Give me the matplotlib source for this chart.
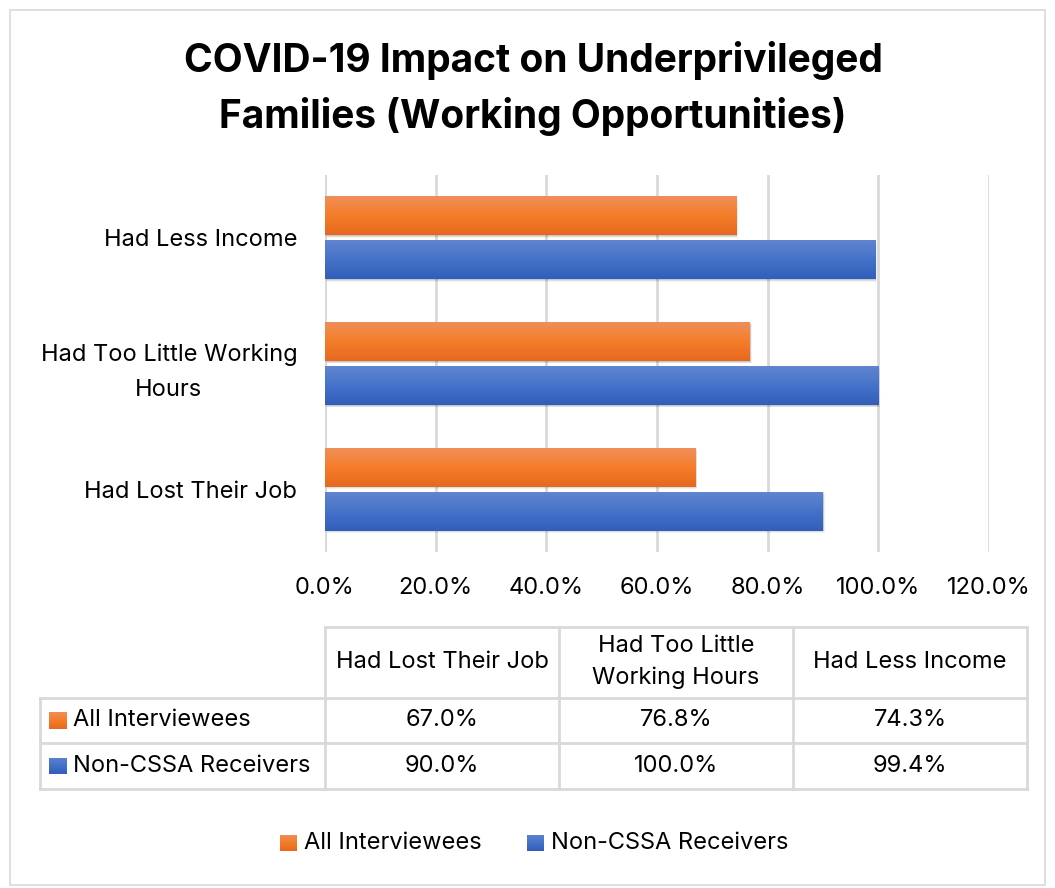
import numpy as np
import matplotlib
matplotlib.use("Agg")
import matplotlib.pyplot as plt
from matplotlib.lines import Line2D
from matplotlib.patches import Rectangle

plt.rcParams['font.family'] = ['Inter', 'DejaVu Sans']

categories = ["Had Lost Their Job", "Had Too Little Working Hours", "Had Less Income"]
axis_labels = ["Had Lost Their Job", "Had Too Little Working\nHours", "Had Less Income"]
table_heads = ["Had Lost Their Job", "Had Too Little\nWorking Hours", "Had Less Income"]
series = ["All Interviewees", "Non-CSSA Receivers"]
all_interviewees = [67.0, 76.8, 74.3]
non_cssa = [90.0, 100.0, 99.4]
xticks = [0, 20, 40, 60, 80, 100, 120]

# top, middle, bottom colours of the bar gradients
orange_grad = [(0.94, 0.56, 0.35), (0.96, 0.49, 0.16), (0.90, 0.41, 0.12)]
blue_grad = [(0.38, 0.52, 0.81), (0.27, 0.45, 0.79), (0.19, 0.37, 0.73)]

FS = 17
W, H = 1055, 888
fig = plt.figure(figsize=(W / 100, H / 100), dpi=100)


def fx(px):
    return px / W


def fy(py):
    return 1 - py / H


# outer chart frame
fig.patches.append(Rectangle((fx(10), fy(885)), fx(1035), 875 / H, transform=fig.transFigure,
                             fill=False, edgecolor="#D9D9D9", lw=1.2))

fig.text(fx(533), fy(60), "COVID-19 Impact on Underprivileged", ha="center", va="center",
         fontsize=28, fontweight="bold", color="black")
fig.text(fx(533), fy(116), "Families (Working Opportunities)", ha="center", va="center",
         fontsize=28, fontweight="bold", color="black")

ax = fig.add_axes([fx(325), fy(552), fx(989) - fx(325), (552 - 175) / H])
y = np.arange(len(categories))
off, bh = 0.175, 0.31


def grad_image(cols, n=64):
    t = np.linspace(0, 1, n)
    c = np.array(cols)
    img = np.empty((n, 1, 3))
    for k in range(3):
        img[:, 0, k] = np.interp(t, [0, 0.5, 1], c[:, k])
    return img


def gradient_bars(bars, cols):
    img = grad_image(cols)
    for b in bars:
        x0, y0, w, h = b.get_x(), b.get_y(), b.get_width(), b.get_height()
        # soft drop shadow
        for i, a in enumerate([0.10, 0.08, 0.05]):
            d = 0.6 + i * 0.5
            ax.add_patch(Rectangle((x0 + d * 0.18, y0 - h * 0.02 * (i + 1)), w, h,
                                   facecolor="black", alpha=a, lw=0, zorder=2))
        ax.imshow(img, extent=(x0, x0 + w, y0, y0 + h), origin="upper",
                  aspect="auto", zorder=3)
        b.set_visible(False)


b1 = ax.barh(y + off, all_interviewees, height=bh)
b2 = ax.barh(y - off, non_cssa, height=bh)
gradient_bars(b1, orange_grad)
gradient_bars(b2, blue_grad)

ax.set_xlim(0, 120)
ax.set_ylim(-0.5, 2.5)
ax.set_xticks(xticks)
ax.set_xticklabels([f"{v:.1f}%" for v in xticks], fontsize=FS)
ax.set_yticks(y)
ax.set_yticklabels(axis_labels, fontsize=FS, multialignment="center", linespacing=1.75)
ax.tick_params(length=0)
ax.tick_params(axis="x", pad=18)
ax.tick_params(axis="y", pad=20)
ax.grid(axis="x", color="#D9D9D9", lw=2)
ax.set_axisbelow(True)
for s in ax.spines.values():
    s.set_visible(False)
ax.axvline(0, color="#D9D9D9", lw=2, zorder=1)

# data table under the axis
line_c = "#D9D9D9"
col_x = [325, 559, 793, 1027]
row_y = [627, 698, 743, 789]


def hline(x0, x1, yy):
    fig.lines.append(Line2D([fx(x0), fx(x1)], [fy(yy), fy(yy)], transform=fig.transFigure,
                            color=line_c, lw=2))


def vline(xx, y0, y1):
    fig.lines.append(Line2D([fx(xx), fx(xx)], [fy(y0), fy(y1)], transform=fig.transFigure,
                            color=line_c, lw=2))


def key_box(x, ycen, cols):
    kax = fig.add_axes([fx(x), fy(ycen + 8.5), fx(17), 17 / H])
    kax.imshow(grad_image(cols), aspect="auto")
    kax.axis("off")


hline(325, 1027, row_y[0])
for yy in row_y[1:]:
    hline(40, 1027, yy)
for xx in col_x:
    vline(xx, row_y[0], row_y[-1])
vline(40, row_y[1], row_y[-1])

for i, head in enumerate(table_heads):
    cx = (col_x[i] + col_x[i + 1]) / 2
    fig.text(fx(cx), fy(662), head, ha="center", va="center", fontsize=FS,
             multialignment="center", linespacing=1.5)

rows = [all_interviewees, non_cssa]
grads = [orange_grad, blue_grad]
for r, (name, vals, g) in enumerate(zip(series, rows, grads)):
    cy = (row_y[r + 1] + row_y[r + 2]) / 2
    key_box(49, cy, g)
    fig.text(fx(73), fy(cy), name, ha="left", va="center", fontsize=FS)
    for i, v in enumerate(vals):
        cx = (col_x[i] + col_x[i + 1]) / 2
        fig.text(fx(cx), fy(cy), f"{v:.1f}%", ha="center", va="center", fontsize=FS)

# legend along the bottom
for name, g, kx in zip(series, grads, [280, 527]):
    key_box(kx, 843, g)
    fig.text(fx(kx + 24), fy(843), name, ha="left", va="center", fontsize=FS)

fig.savefig("out.png", dpi=100, facecolor="white")
